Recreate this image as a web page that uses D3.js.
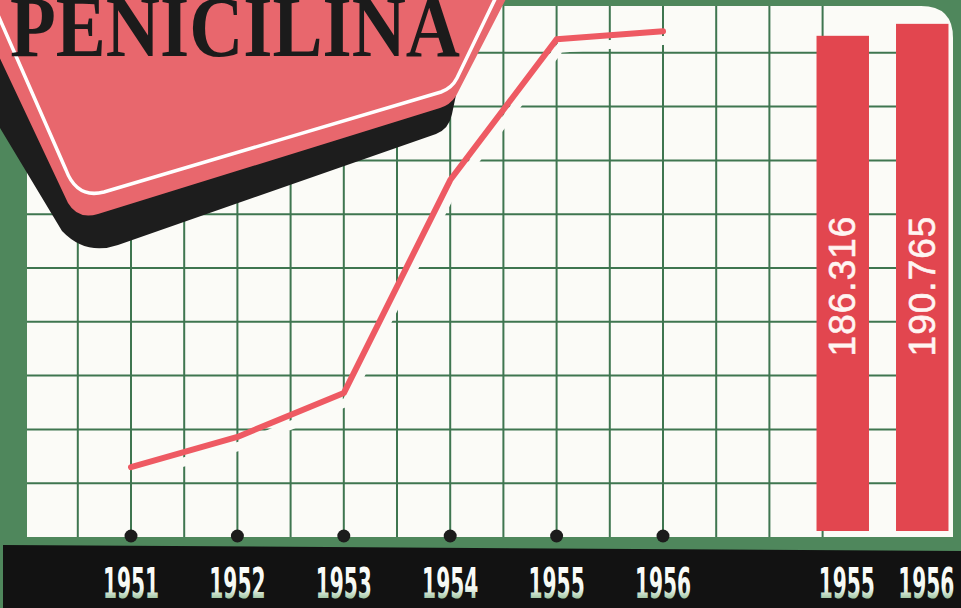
<!DOCTYPE html>
<html>
<head>
<meta charset="utf-8">
<script src="https://cdn.jsdelivr.net/npm/d3@7"></script>
<style>
  html, body { margin: 0; padding: 0; background: #4f875c; overflow: hidden; }
</style>
</head>
<body>
<div id="chart"></div>
<script>
const years = [1951, 1952, 1953, 1954, 1955, 1956];
const output = [26, 37.2, 53.5, 132.7, 185, 188];
const barYears = ['1955', '1956'];
const barValues = [186.316, 190.765];
const barLabels = ['186.316', '190.765'];
const title = 'PENICILINA';

const width = 961, height = 608;

const svg = d3.select('#chart')
    .append('svg')
    .attr('width', width)
    .attr('height', height);

const x = d3.scaleLinear().domain([1951, 1956]).range([131, 663]);
const y = d3.scaleLinear().domain([0, 200]).range([537, -1]);
const xb = d3.scaleBand().domain(barYears).range([803, 962])
    .paddingInner(0.34).paddingOuter(0.17);

const gridColor = '#3f7650';

const defs = svg.append('defs');
const grad = defs.append('linearGradient')
    .attr('id', 'digits').attr('x1', 0).attr('y1', 0).attr('x2', 0).attr('y2', 1);
grad.append('stop').attr('offset', '0').attr('stop-color', '#ffffff');
grad.append('stop').attr('offset', '0.6').attr('stop-color', '#f4f8f2');
grad.append('stop').attr('offset', '0.85').attr('stop-color', '#8dbb92');
grad.append('stop').attr('offset', '1').attr('stop-color', '#5d9468');

// background + paper panel
svg.append('rect').attr('width', width).attr('height', height).attr('fill', '#4f875c');
svg.append('path')
    .attr('d', 'M27,6 H921 Q953,6 953,38 V537 H27 Z')
    .attr('fill', '#fbfbf7');

// grid
const vTicks = d3.range(1950.5, 1957.51, 0.5);
svg.append('g').selectAll('line').data(vTicks).join('line')
    .attr('x1', d => x(d)).attr('x2', d => x(d))
    .attr('y1', 6).attr('y2', y(0))
    .attr('stroke', gridColor).attr('stroke-width', 2);

const hTicks = d3.range(20, 200, 20);
svg.append('g').selectAll('line').data(hTicks).join('line')
    .attr('x1', 27).attr('x2', xb('1956'))
    .attr('y1', d => y(d)).attr('y2', d => y(d))
    .attr('stroke', gridColor).attr('stroke-width', 2);

// bars
svg.append('g').selectAll('rect').data(barValues).join('rect')
    .attr('x', (d, i) => xb(barYears[i]))
    .attr('width', xb.bandwidth())
    .attr('y', d => y(d))
    .attr('height', d => y(0) - 6 - y(d))
    .attr('fill', '#e2464f');

svg.append('g').selectAll('text').data(barLabels).join('text')
    .attr('transform', (d, i) => `translate(${xb(barYears[i]) + xb.bandwidth() / 2},286) rotate(-90)`)
    .attr('text-anchor', 'middle')
    .attr('dominant-baseline', 'central')
    .attr('font-family', 'Liberation Sans, Arial, sans-serif')
    .attr('font-size', 37)
    .attr('letter-spacing', 1)
    .attr('stroke', '#fff5f2')
    .attr('stroke-width', 0.6)
    .attr('fill', '#fff5f2')
    .text(d => d);

// line, with the white gap the printer left under it
const line = d3.line()
    .x((d, i) => x(years[i]))
    .y(d => y(d));

svg.append('path')
    .datum(output)
    .attr('d', line)
    .attr('transform', 'translate(3,9)')
    .attr('fill', 'none')
    .attr('stroke', '#fbfbf7')
    .attr('stroke-width', 9);

svg.append('path')
    .datum(output)
    .attr('d', line)
    .attr('fill', 'none')
    .attr('stroke', '#ee5a63')
    .attr('stroke-width', 6)
    .attr('stroke-linecap', 'round')
    .attr('stroke-linejoin', 'round');

// year dots
svg.append('g').selectAll('circle').data(years).join('circle')
    .attr('cx', d => x(d))
    .attr('cy', y(0) - 1)
    .attr('r', 6.5)
    .attr('fill', '#1c1c1c');

// black base strip with years
svg.append('path')
    .attr('d', 'M3,545 L961,551 V608 H3 Z')
    .attr('fill', '#121212');

const yearLabels = years.map(d => ({ t: String(d), cx: x(d) }))
    .concat(barYears.map(d => ({ t: d, cx: xb(d) + xb.bandwidth() / 2 + 4 })));

svg.append('g').selectAll('text').data(yearLabels).join('text')
    .attr('transform', d => `translate(${d.cx},598) scale(0.47,1)`)
    .attr('text-anchor', 'middle')
    .attr('font-family', 'DejaVu Sans, sans-serif')
    .attr('font-weight', 'bold')
    .attr('font-size', 43)
    .attr('fill', 'url(#digits)')
    .text(d => d.t);

// title badge
const badge = svg.append('g');
badge.append('path')
    .attr('d', 'M0,45 L456,95 L452,114 Q449,129 436,134 L118,245 Q86,256 62,231 L0,128 Z')
    .attr('fill', '#1d1d1d');
badge.append('path')
    .attr('d', 'M-5,-5 L508,-5 L456,96 Q450,105 440,108 L98,214 Q78,220 68,203 L-5,48 Z')
    .attr('fill', '#e8676d');
badge.append('path')
    .attr('d', 'M-2,15 L66,170 Q77,199 104,192 L441,92 Q452,88 457,78 L497,-5')
    .attr('fill', 'none')
    .attr('stroke', '#ffffff')
    .attr('stroke-width', 3.5);
badge.append('text')
    .attr('x', 10)
    .attr('y', 56)
    .attr('textLength', 450)
    .attr('lengthAdjust', 'spacingAndGlyphs')
    .attr('font-family', 'Liberation Serif, serif')
    .attr('font-weight', 'bold')
    .attr('font-size', 86)
    .attr('fill', '#1b1b1b')
    .text(title);
</script>
</body>
</html>
